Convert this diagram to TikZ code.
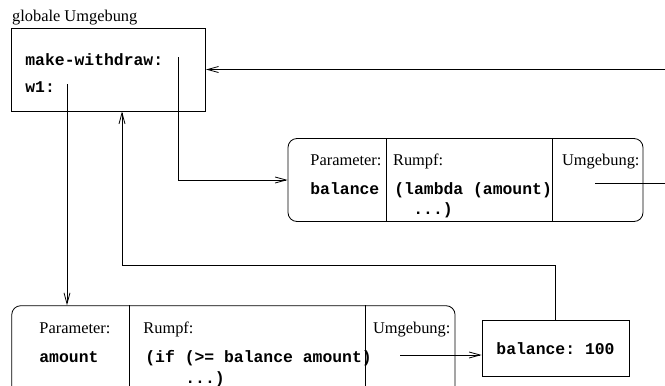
\documentclass[tikz,border=0pt]{standalone}
\usepackage{fontspec}
\setmainfont{Liberation Serif}
\setmonofont{Liberation Mono}
\usetikzlibrary{arrows.meta, positioning}

\begin{document}
\begin{tikzpicture}[x=1pt, y=-1pt, line width=0.8pt,
  every node/.style={font=\fontsize{16.4}{20}\selectfont, inner sep=0pt},
  lbl/.style={anchor=base west},
  code/.style={anchor=base west, font=\fontsize{16.4}{20}\selectfont\ttfamily\bfseries},
  closure/.style={draw, rounded corners=9pt},
  ptr/.style={-{Straight Barb[length=11pt,width=6pt]}}]
\useasboundingbox (0,0) rectangle (665,386);
\clip (0,0) rectangle (665,386);
% global environment
\node[lbl] (glabel) at (11.7,21) {globale Umgebung};
\node[draw, minimum width=194pt, minimum height=83pt] (global) at (108.6,69.5) {};
\node[code] (mw) at (25,65) {make-withdraw:};
\node[code] (w1) at (25,92) {w1:};
\coordinate (mwptr) at (178,57);
\coordinate (w1ptr) at (67,84);
% closure of make-withdraw
\node[closure, minimum width=355pt, minimum height=83pt] (clos1) at (465.5,180) {};
\draw (386.7,0 |- clos1.north) -- (386.7,0 |- clos1.south);
\draw (552.7,0 |- clos1.north) -- (552.7,0 |- clos1.south);
\node[lbl] (par1) at (310,165) {Parameter:};
\node[code] (bal1) at (310,194) {balance};
\node[lbl] (rumpf1) at (392.7,165) {Rumpf:};
\node[code] (body1) at (394,194) {(lambda (amount)};
\node[code] (dots1) at (413,214) {...)};
\node[lbl] (umg1) at (561.7,165) {Umgebung:};
\coordinate (env1) at (595,183);
% closure of w1
\node[closure, minimum width=443.3pt, minimum height=95pt] (clos2) at (233.4,353.2) {};
\draw (129,0 |- clos2.north) -- (129,0 |- clos2.south);
\draw (365.7,0 |- clos2.north) -- (365.7,0 |- clos2.south);
\node[lbl] (par2) at (39,333) {Parameter:};
\node[code] (amt2) at (39,362) {amount};
\node[lbl] (rumpf2) at (143,333) {Rumpf:};
\node[code] (body2) at (145,362) {(if (>= balance amount)};
\node[code] (dots2) at (185,383) {...)};
\node[lbl] (umg2) at (372.6,333) {Umgebung:};
\coordinate (env2) at (400,355);
% new frame
\node[draw, minimum width=147pt, minimum height=56pt] (frame) at (555.5,348) {};
\node[code] at (frame.center) [anchor=center, yshift=-1pt] {balance: 100};
% pointers
\coordinate (offright) at (690,0);
\coordinate (ret) at (122,265);
\draw[ptr] (mwptr) |- (clos1.west);
\draw[ptr] (w1ptr) -- (w1ptr |- clos2.north);
\draw[ptr] (env1) -- (env1 -| offright) |- (global.east);
\draw[ptr] (env2) -- (env2 -| frame.west);
\draw[ptr] (frame.north) |- (ret) -- (ret |- global.south);
\end{tikzpicture}
\end{document}
